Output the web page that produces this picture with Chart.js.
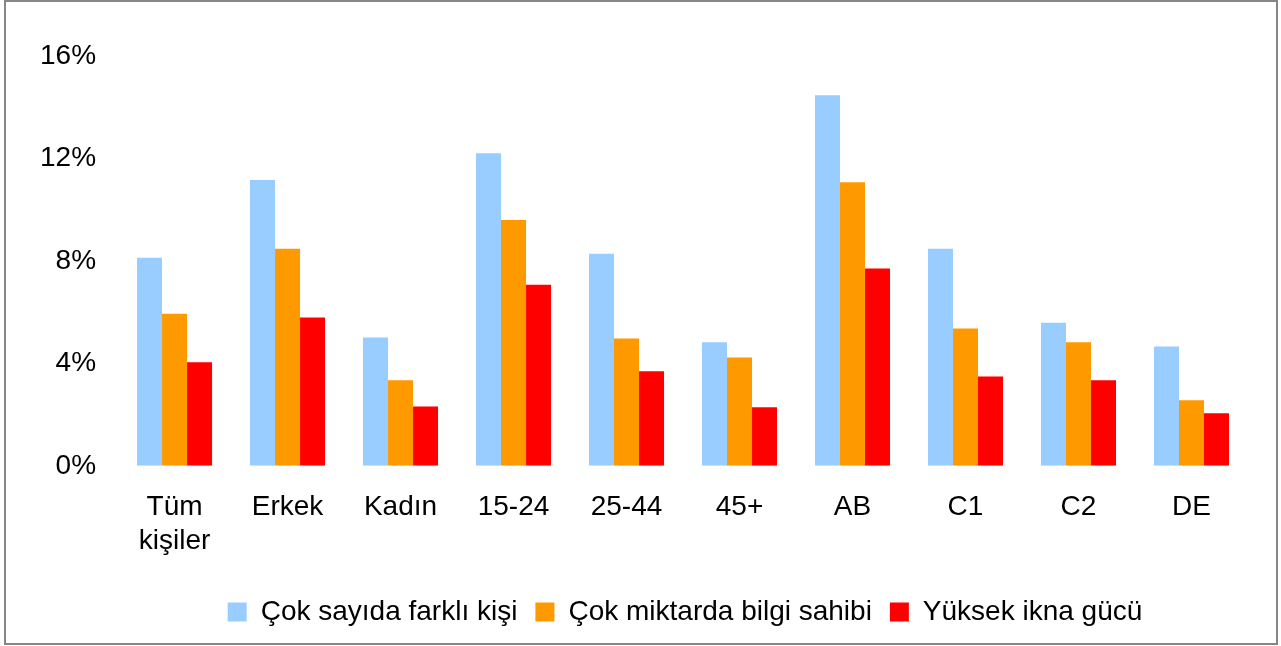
<!DOCTYPE html>
<html>
<head>
<meta charset="utf-8">
<script src="https://cdn.jsdelivr.net/npm/chart.js@4.4.1/dist/chart.umd.min.js"></script>
<style>
    html, body { margin: 0; padding: 0; background: #fff; }
    .frame {
        position: absolute; left: 4px; top: 0;
        width: 1270px; height: 641px;
        border: 2px solid #868686;
    }
</style>
</head>
<body>
<div class="frame"><canvas id="chart" width="1270" height="641"></canvas></div>
<script>
// ==================== DATA ====================
const categories = [['Tüm', 'kişiler'], 'Erkek', 'Kadın', '15-24', '25-44', '45+', 'AB', 'C1', 'C2', 'DE'];
const seriesNames = ['Çok sayıda farklı kişi', 'Çok miktarda bilgi sahibi', 'Yüksek ikna gücü'];
const manyPeople = [8.12, 11.16, 5.01, 12.2, 8.28, 4.82, 14.47, 8.47, 5.59, 4.66];
const muchInfo   = [5.94, 8.47, 3.34, 9.6, 4.97, 4.23, 11.07, 5.36, 4.82, 2.56];
const persuasion = [4.04, 5.79, 2.32, 7.07, 3.69, 2.29, 7.7, 3.49, 3.34, 2.05];
const yTicks = [0, 4, 8, 12, 16];
const colors = ['#99CCFF', '#FF9900', '#FF0000'];

const FONT = { family: 'Liberation Sans, Arial, sans-serif', size: 28 };

// push the legend right so it sits where the original had it
const legendShift = {
    id: 'legendShift',
    afterLayout(chart) {
        chart.legend.left += 52;
        chart.legend.right += 52;
    }
};

new Chart(document.getElementById('chart').getContext('2d'), {
    type: 'bar',
    data: {
        labels: categories,
        datasets: [manyPeople, muchInfo, persuasion].map((d, i) => ({
            label: seriesNames[i],
            data: d,
            backgroundColor: colors[i],
            borderWidth: 0,
            categoryPercentage: 0.664,
            barPercentage: 1.0
        }))
    },
    options: {
        responsive: false,
        animation: false,
        layout: { padding: { left: 12, right: 28, top: 54, bottom: 7 } },
        plugins: {
            tooltip: { enabled: false },
            legend: {
                position: 'bottom',
                labels: {
                    color: '#000',
                    font: FONT,
                    boxWidth: 19,
                    boxHeight: 19,
                    padding: 18
                }
            }
        },
        scales: {
            x: {
                grid: { display: false, drawTicks: false },
                border: { display: false },
                ticks: { color: '#000', font: FONT, padding: 25, maxRotation: 0 },
                afterFit: (scale) => { scale.height -= 3; }
            },
            y: {
                min: 0,
                max: 16,
                grid: { display: false, drawTicks: false },
                border: { display: false },
                afterBuildTicks: (scale) => { scale.ticks = yTicks.map(v => ({ value: v })); },
                ticks: { color: '#000', font: FONT, padding: 22, callback: v => v + '%' }
            }
        }
    },
    plugins: [legendShift]
});
</script>
</body>
</html>
